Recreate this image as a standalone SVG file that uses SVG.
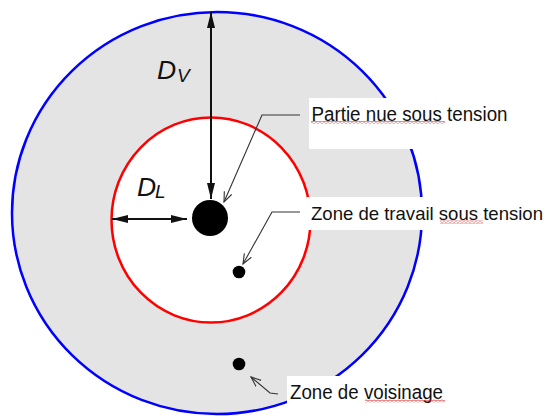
<svg xmlns="http://www.w3.org/2000/svg" width="549" height="416" viewBox="0 0 549 416">
  <style>
    .lbl { font-family: "Liberation Sans", Arial, sans-serif; font-size: 19.5px; fill: #111; }
    .lbl2 { font-family: "Liberation Sans", Arial, sans-serif; font-size: 18.5px; fill: #111; }
    .dim { font-family: "Liberation Sans", Arial, sans-serif; font-style: italic; fill: #111; }
    .dimline { stroke: #111; stroke-width: 2; fill: none; }
    .leader { stroke: #333; stroke-width: 1.1; fill: none; }
    .box { fill: #ffffff; }
  </style>
  <defs>
    <marker id="solid" markerUnits="userSpaceOnUse" markerWidth="17" markerHeight="9" refX="16" refY="4" orient="auto-start-reverse">
      <path d="M0,0 L16,4 L0,8 z" fill="#111"/>
    </marker>
    <marker id="open" markerUnits="userSpaceOnUse" markerWidth="12" markerHeight="10" refX="10" refY="4.5" orient="auto">
      <path d="M0,0.5 L10,4.5 L0,8.5" fill="none" stroke="#333" stroke-width="1.1"/>
    </marker>
    <pattern id="squiggle" patternUnits="userSpaceOnUse" width="4" height="3">
      <path d="M0,2.3 L2,0.7 L4,2.3" fill="none" stroke="#e02020" stroke-width="0.9"/>
    </pattern>
  </defs>
  <rect width="549" height="416" fill="#ffffff"/>

  <g id="zone-voisinage-area">
    <ellipse cx="217" cy="213" rx="205" ry="201" fill="#e4e4e4" stroke="#0000ff" stroke-width="2.5"/>
  </g>
  <g id="zone-travail-area">
    <ellipse cx="211" cy="220" rx="99.5" ry="102.5" fill="#ffffff" stroke="#ff0000" stroke-width="2.5"/>
  </g>

  <g id="label-partie">
    <rect class="box" x="309" y="98" width="215" height="51"/>
    <text class="lbl" x="311.5" y="120.5" textLength="196" lengthAdjust="spacingAndGlyphs">Partie nue sous tension</text>
    <rect x="311" y="121" width="134" height="3" fill="url(#squiggle)"/>
  </g>
  <g id="label-travail">
    <rect class="box" x="307" y="197" width="242" height="33"/>
    <text class="lbl2" x="311" y="219.5" textLength="232" lengthAdjust="spacingAndGlyphs">Zone de travail sous tension</text>
    <rect x="440" y="220.5" width="43" height="3" fill="url(#squiggle)"/>
  </g>
  <g id="label-voisinage">
    <rect class="box" x="287" y="376" width="160" height="40"/>
    <text class="lbl" x="290" y="399" textLength="153" lengthAdjust="spacingAndGlyphs">Zone de voisinage</text>
    <rect x="365" y="399.5" width="80" height="3" fill="url(#squiggle)"/>
  </g>

  <g id="dim-labels">
    <text class="dim" x="157" y="79" font-size="26.5">D</text>
    <text class="dim" x="177" y="82" font-size="19">V</text>
    <text class="dim" x="137" y="195.5" font-size="26.5">D</text>
    <text class="dim" x="155" y="197.5" font-size="19">L</text>
  </g>

  <g id="part-nue">
    <circle cx="210" cy="218" r="18" fill="#000"/>
  </g>
  <g id="point-travail">
    <circle cx="239" cy="272" r="6.3" fill="#000"/>
  </g>
  <g id="point-voisinage">
    <circle cx="239" cy="364" r="6.3" fill="#000"/>
  </g>

  <g id="connectors">
    <line class="dimline" x1="211" y1="12" x2="211" y2="199" marker-start="url(#solid)" marker-end="url(#solid)"/>
    <line class="dimline" x1="112" y1="219" x2="187" y2="219" marker-start="url(#solid)" marker-end="url(#solid)"/>
    <polyline class="leader" points="300,115 262,115 224,202" marker-end="url(#open)"/>
    <polyline class="leader" points="300,212 272,212 243,264" marker-end="url(#open)"/>
    <polyline class="leader" points="278,394 270,393 251,377" marker-end="url(#open)"/>
  </g>
</svg>
